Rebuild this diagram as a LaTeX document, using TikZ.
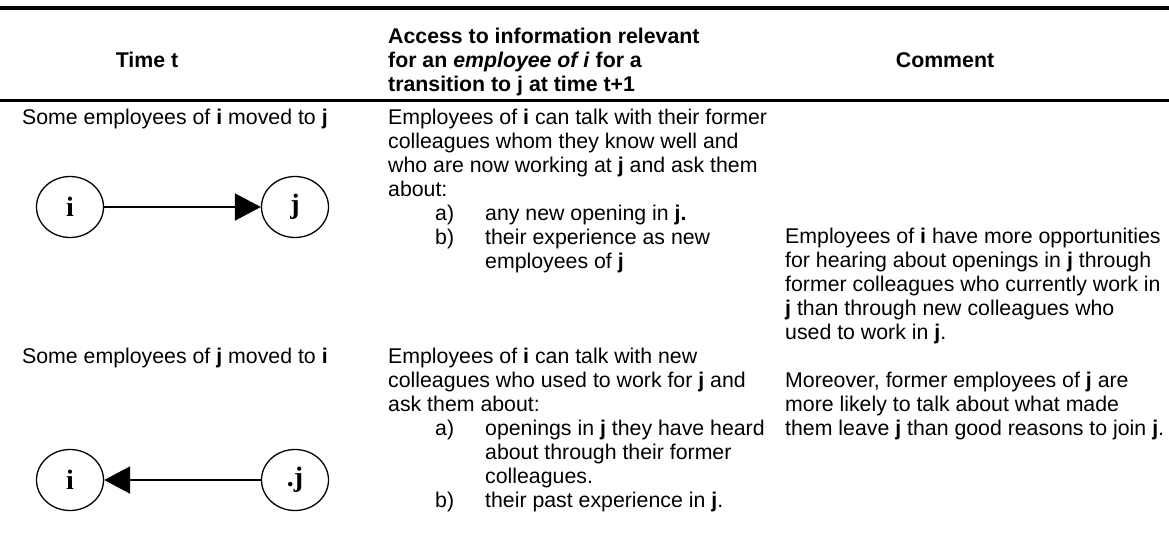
\documentclass[tikz,border=0pt]{standalone}
\usepackage{fontspec}
\setmainfont{Liberation Sans}
\newfontfamily\timesfont{Liberation Serif}
\usetikzlibrary{arrows.meta,shapes.geometric}

\newcommand{\itm}[2]{\hspace*{47pt}\makebox[50pt][l]{#1}#2}
\newcommand{\itmcont}[1]{\hspace*{97pt}#1}

\begin{document}
\begin{tikzpicture}[x=1pt,y=-1pt,->,>={Triangle[length=26pt,width=27pt]},
  firm node/.style={ellipse,draw,line width=1.3pt,minimum width=67pt,minimum height=61pt,inner sep=0pt,
    font=\timesfont\fontsize{28}{28}\selectfont\bfseries},
  body text/.style={anchor=base west,align=left,inner sep=0pt,font=\fontsize{21.3}{24}\selectfont},
  head text/.style={anchor=base,align=center,inner sep=0pt,font=\fontsize{21.3}{24}\selectfont\bfseries}]

  \useasboundingbox (0,0) rectangle (1169,546);

  % table rules
  \draw[-,line width=4pt] (0,8) -- (1169,8);
  \draw[-,line width=3pt] (0,100) -- (1169,100);

  % header (multi-line nodes sit on their last baseline)
  \node[head text] (time) at (147,67) {Time t};
  \node[body text,font=\fontsize{21.3}{24}\selectfont\bfseries] (access) at (388,91)
    {Access to information relevant\\ for an \textit{employee of i} for a\\ transition to j at time t+1};
  \node[head text] (comment) at (945,67) {Comment};

  % first row
  \node[body text] (move1) at (22,124) {Some employees of \textbf{i} moved to \textbf{j}};
  \node[firm node] (i1) at (70,207) {i};
  \node[firm node] (j1) at (295,207) {j};
  \node[body text] (info1) at (388,268)
    {Employees of \textbf{i} can talk with their former\\
     colleagues whom they know well and\\
     who are now working at \textbf{j} and ask them\\
     about:\\
     \itm{a)}{any new opening in \textbf{j.}}\\
     \itm{b)}{their experience as new}\\
     \itmcont{employees of \textbf{j}}};

  % second row
  \node[body text] (move2) at (22,363) {Some employees of \textbf{j} moved to \textbf{i}};
  \node[firm node] (i2) at (70,480) {i};
  \node[firm node] (j2) at (295,480) {.j};
  \node[body text] (info2) at (388,507)
    {Employees of \textbf{i} can talk with new\\
     colleagues who used to work for \textbf{j} and\\
     ask them about:\\
     \itm{a)}{openings in \textbf{j} they have heard}\\
     \itmcont{about through their former}\\
     \itmcont{colleagues.}\\
     \itm{b)}{their past experience in \textbf{j}.}};

  % comment spanning both rows
  \node[body text] (remark) at (785,435)
    {Employees of \textbf{i} have more opportunities\\
     for hearing about openings in \textbf{j} through\\
     former colleagues who currently work in\\
     \textbf{j} than through new colleagues who\\
     used to work in \textbf{j}.\\[24pt]
     Moreover, former employees of \textbf{j} are\\
     more likely to talk about what made\\
     them leave \textbf{j} than good reasons to join \textbf{j}.};

  \path[line width=2pt]
    (i1) edge (j1)
    (j2) edge (i2);
\end{tikzpicture}
\end{document}
